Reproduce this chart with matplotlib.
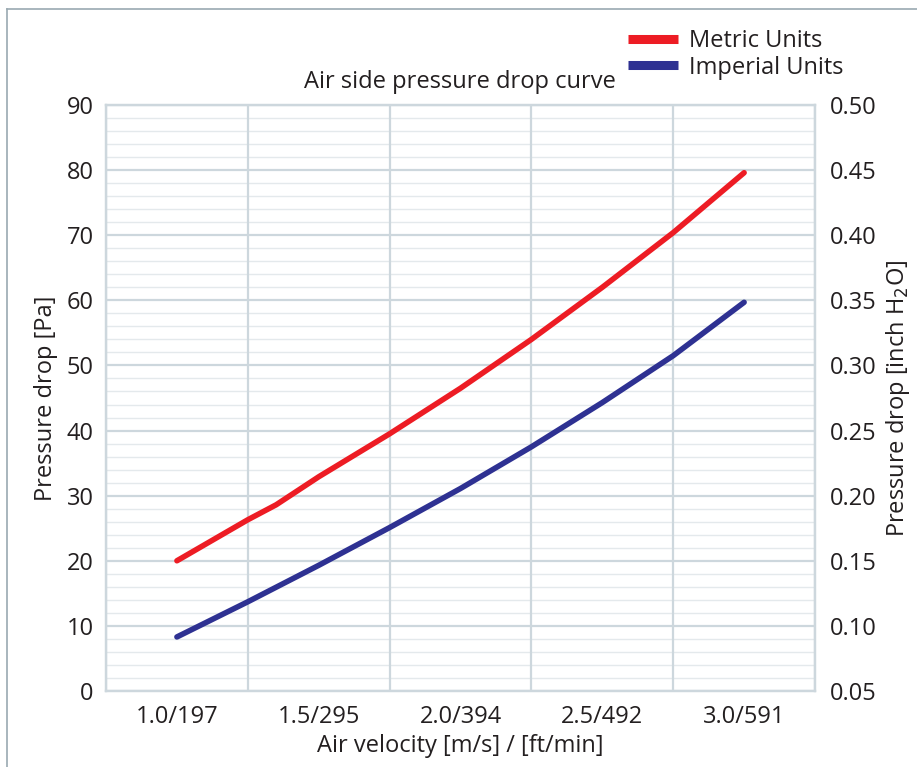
import matplotlib
matplotlib.use("Agg")
import matplotlib.pyplot as plt
from matplotlib.lines import Line2D
import numpy as np

# ---- data ----
categories = [1.0, 1.5, 2.0, 2.5, 3.0]
tick_labels = ["1.0/197", "1.5/295", "2.0/394", "2.5/492", "3.0/591"]

metric_v = [1.0, 1.25, 1.35, 1.5, 1.75, 2.0, 2.25, 2.5, 2.75, 3.0]
metric_pa = [20.0, 26.3, 28.6, 32.9, 39.5, 46.5, 54.0, 62.0, 70.4, 79.6]

imperial_v = [1.0, 1.25, 1.5, 1.75, 2.0, 2.25, 2.5, 2.75, 3.0]
imperial_inh2o = [0.0915, 0.1185, 0.1465, 0.1755, 0.2055, 0.2375, 0.2715,
                  0.3075, 0.3485]

RED = "#ed1c24"
BLUE = "#2e3192"
TXT = "#231f20"
GRID_MAJ = "#cdd7dd"
GRID_MIN = "#e4e9ec"
FS = 17

plt.rcParams['font.family'] = ['Open Sans', 'DejaVu Sans']

fig = plt.figure(figsize=(9.17, 7.67), dpi=100)
ax = fig.add_axes([0.1156, 0.0991, 0.7732, 0.7640])
ax2 = ax.twinx()

ax.set_xlim(0.75, 3.25)
ax.set_ylim(0, 90)
ax2.set_ylim(0.05, 0.50)

# grid
for y in np.arange(0, 91, 2):
    ax.axhline(y, color=GRID_MAJ if y % 10 == 0 else GRID_MIN,
               lw=1.6 if y % 10 == 0 else 1.0, zorder=0)
for x in np.arange(0.75, 3.26, 0.5):
    ax.axvline(x, color=GRID_MAJ, lw=1.6, zorder=0)
for sp in list(ax.spines.values()) + list(ax2.spines.values()):
    sp.set_color(GRID_MAJ)
    sp.set_linewidth(1.6)

ax.set_xticks(categories)
ax.set_xticklabels(tick_labels)
ax.set_yticks(np.arange(0, 91, 10))
ax2.set_yticks(np.arange(0.05, 0.501, 0.05))
ax2.set_yticklabels([f"{v:.2f}" for v in np.arange(0.05, 0.501, 0.05)])

ax.tick_params(axis='both', length=0, labelsize=FS, colors=TXT)
ax.tick_params(axis='y', pad=9)
ax.tick_params(axis='x', pad=10)
ax2.tick_params(axis='y', length=0, labelsize=FS, colors=TXT, pad=11)

ax.plot(metric_v, metric_pa, color=RED, lw=4, solid_capstyle='round',
        solid_joinstyle='round', zorder=3)
ax2.plot(imperial_v, imperial_inh2o, color=BLUE, lw=4, solid_capstyle='round',
         solid_joinstyle='round', zorder=3)

ax.set_xlabel("Air velocity [m/s] / [ft/min]", fontsize=FS, color=TXT, labelpad=4)
ax.set_ylabel("Pressure drop [Pa]", fontsize=FS, color=TXT, labelpad=6)
ax2.set_ylabel("Pressure drop [inch H$_2$O]", fontsize=FS, color=TXT, labelpad=5)

fig.text(0.502, 0.893, "Air side pressure drop curve", fontsize=FS,
         color=TXT, ha='center', va='center')

# legend (top right)
handles = [Line2D([], [], color=RED, lw=6.5, solid_capstyle='butt'),
           Line2D([], [], color=BLUE, lw=6.5, solid_capstyle='butt')]
fig.legend(handles, ["Metric Units", "Imperial Units"], loc='upper left',
           bbox_to_anchor=(0.662, 0.99), frameon=False, fontsize=FS,
           handlelength=2.12, handletextpad=0.45, labelspacing=0.12,
           labelcolor=TXT)

# outer frame on left and top
fig.add_artist(Line2D([0.0076, 0.0076], [0.0, 0.988], color="#9aa9b1", lw=1.2,
                      transform=fig.transFigure))
fig.add_artist(Line2D([0.0076, 1.0], [0.988, 0.988], color="#9aa9b1", lw=1.2,
                      transform=fig.transFigure))

fig.savefig("out.png", dpi=100)
